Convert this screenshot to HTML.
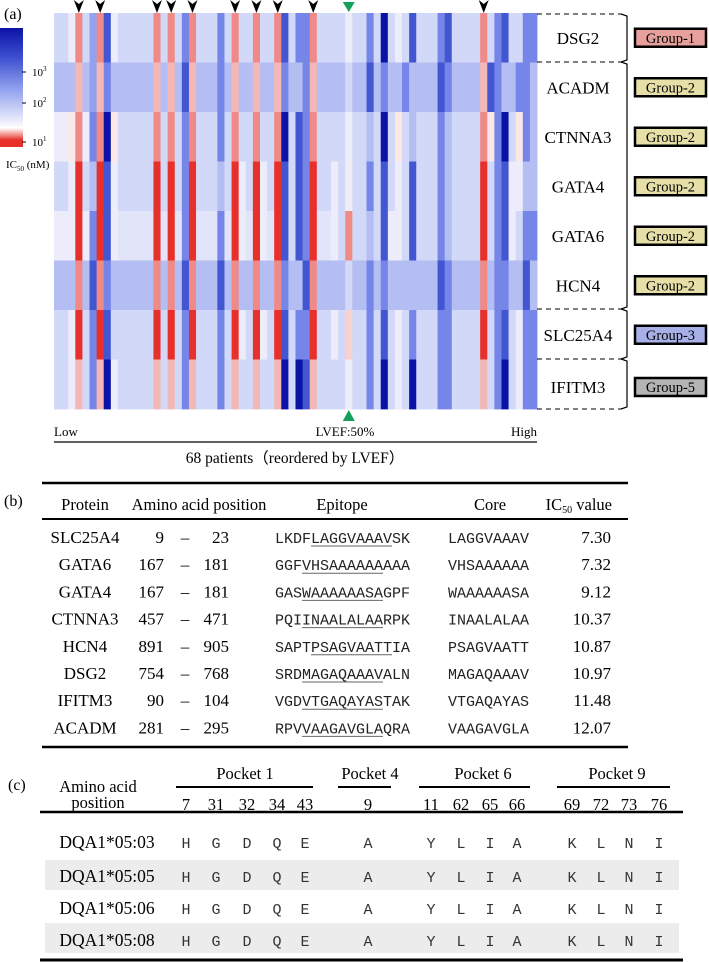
<!DOCTYPE html>
<html><head><meta charset="utf-8"><style>
html,body{margin:0;padding:0;background:#fff;}
svg{display:block;font-family:"Liberation Serif",serif;}
.mono{font-family:"Liberation Mono",monospace;}
</style></head><body>
<svg id="fig" width="709" height="962" viewBox="0 0 709 962" xmlns="http://www.w3.org/2000/svg">
<defs>
<linearGradient id="cb" x1="0" y1="0" x2="0" y2="1">
<stop offset="0" stop-color="#0b12a6"/><stop offset="0.25" stop-color="#3d50d0"/><stop offset="0.5" stop-color="#8d9ded"/><stop offset="0.75" stop-color="#dfe3f9"/><stop offset="0.84" stop-color="#ffffff"/><stop offset="0.9" stop-color="#f08a85"/><stop offset="0.94" stop-color="#e8302a"/><stop offset="1" stop-color="#e8302a"/>
</linearGradient>
</defs>
<text x="4" y="19" font-size="16">(a)</text>
<g>
<rect x="0" y="28" width="23" height="119" fill="url(#cb)"/>
<g stroke="#000" stroke-width="1">
<line x1="22" y1="72" x2="26" y2="72"/><line x1="22" y1="103" x2="26" y2="103"/><line x1="22" y1="142" x2="26" y2="142"/>
</g>
<text x="32" y="76" font-size="11">10<tspan font-size="7" dy="-5">3</tspan></text>
<text x="32" y="107" font-size="11">10<tspan font-size="7" dy="-5">2</tspan></text>
<text x="32" y="146" font-size="11">10<tspan font-size="7" dy="-5">1</tspan></text>
<text x="6" y="168" font-size="11">IC<tspan font-size="7" dy="3">50</tspan><tspan dy="-3"> (nM)</tspan></text>
</g>
<g id="heat"></g>
<g id="marks"></g>
<g id="rowlabels"></g>
<g>
<text x="54" y="436" font-size="13">Low</text>
<text x="345" y="436" font-size="13" text-anchor="middle">LVEF:50%</text>
<text x="537" y="436" font-size="13" text-anchor="end">High</text>
<line x1="54" y1="442" x2="537" y2="442" stroke="#000" stroke-width="1.2"/>
<text x="295" y="463" font-size="15.5" text-anchor="middle">68 patients（reordered by LVEF）</text>
</g>
<g>
<text x="4" y="506" font-size="16">(b)</text>
<line x1="42" y1="483" x2="628" y2="483" stroke="#000" stroke-width="2.5"/>
<line x1="42" y1="519" x2="628" y2="519" stroke="#000" stroke-width="2"/>
<line x1="42" y1="747" x2="628" y2="747" stroke="#000" stroke-width="2.5"/>
<g font-size="16.5">
<text x="85" y="510" text-anchor="middle">Protein</text>
<text x="199" y="510" text-anchor="middle">Amino acid position</text>
<text x="342" y="510" text-anchor="middle">Epitope</text>
<text x="490" y="510" text-anchor="middle">Core</text>
<text x="612" y="510" text-anchor="end">IC<tspan font-size="10" dy="3">50</tspan><tspan dy="-3"> value</tspan></text>
</g>
<g id="tb"></g>
</g>
<g>
<text x="8" y="790" font-size="16">(c)</text>
<g font-size="16.5" text-anchor="middle">
<text x="98" y="792">Amino acid</text><text x="98" y="808">position</text>
<text x="245" y="779">Pocket 1</text><text x="370" y="779">Pocket 4</text>
<text x="483" y="779">Pocket 6</text><text x="617" y="779">Pocket 9</text>
</g>
<g stroke="#000" stroke-width="2">
<line x1="176" y1="787" x2="313" y2="787"/><line x1="338" y1="787" x2="391" y2="787"/>
<line x1="419" y1="787" x2="530" y2="787"/><line x1="557" y1="787" x2="670" y2="787"/>
</g>
<rect x="45" y="860" width="634" height="30" fill="#ececec"/>
<rect x="45" y="923" width="634" height="30" fill="#ececec"/>
<line x1="40" y1="812" x2="683" y2="812" stroke="#000" stroke-width="2.5"/>
<line x1="40" y1="960" x2="683" y2="960" stroke="#000" stroke-width="3"/>
<g id="tc"></g>
</g>
</svg>
<script>
const proteins = ["DSG2","ACADM","CTNNA3","GATA4","GATA6","HCN4","SLC25A4","IFITM3"];
const groups = ["Group-1","Group-2","Group-2","Group-2","Group-2","Group-2","Group-3","Group-5"];
const rowDSG2 = [2.1,2.1,1.85,1.3,2.1,2.6,1.3,3.1,1.85,2.1,2.1,2.1,2.1,2.1,1.3,2.1,1.3,2.1,2.8,1.3,2.1,2.1,2.1,2.8,2.1,1.3,2.1,2.1,1.3,2.1,2.1,1.3,3.1,2.1,2.8,2.8,1.3,2.1,2.1,2.1,2.1,1.85,2.1,2.1,2.8,2.1,3.5,2.1,1.85,2.1,3.1,2.1,2.1,2.1,2.8,3.1,2.1,2.1,2.1,2.1,1.3,2.1,2.8,3.1,2.1,2.1,2.8,2.8];
const rowACADM = [2.4,2.4,2.4,1.5,2.4,2.6,1.5,2.8,2.4,2.4,2.4,2.4,2.4,2.4,1.5,2.4,1.5,2.4,3.1,1.5,2.4,2.4,2.4,2.8,2.4,1.5,2.4,2.4,1.5,2.4,2.4,1.5,2.8,2.4,2.4,2.8,1.5,2.4,2.4,2.4,2.4,2.1,2.4,2.4,3.1,2.4,2.8,2.4,2.4,2.8,2.4,2.4,2.4,2.4,3.1,2.8,2.4,2.4,2.4,2.4,1.5,3.1,2.8,2.4,2.4,2.8,2.8,2.4];
const rowCTNNA3 = [1.85,1.85,1.7,1.3,1.85,2.8,1.3,3.5,1.7,2.1,2.1,2.1,2.1,2.1,1.3,2.1,1.3,2.1,2.8,1.3,2.1,2.1,2.1,2.8,2.1,1.3,2.1,2.1,1.3,2.1,2.1,1.3,3.5,2.1,3.1,2.8,1.3,2.1,2.1,2.1,2.1,1.85,2.1,2.1,2.4,2.1,3.5,2.1,1.7,2.1,2.4,2.1,2.1,2.1,2.8,2.4,2.1,2.1,2.1,2.1,1.3,1.7,2.8,3.5,2.1,1.7,2.8,2.4];
const rowGATA4 = [2.1,2.1,1.85,1.0,2.1,2.4,1.0,3.1,1.85,2.1,2.1,2.1,2.1,2.1,1.0,2.1,1.0,2.1,2.8,1.0,2.1,2.1,2.1,2.4,2.1,1.0,1.85,2.1,1.0,1.85,2.1,1.0,3.1,2.1,3.1,2.8,1.0,2.1,2.1,1.85,2.1,1.8,2.1,2.1,2.8,2.1,3.1,2.1,1.85,2.1,3.1,2.1,2.1,2.1,2.8,2.4,2.1,2.1,2.1,2.1,1.0,2.1,2.8,3.1,1.85,1.85,2.4,2.4];
const rowGATA6 = [1.85,1.85,1.85,1.0,1.85,2.8,1.0,3.1,1.85,1.95,1.95,1.95,1.95,1.95,1.0,1.95,1.0,1.95,2.8,1.0,1.95,1.95,1.95,2.8,1.95,1.0,1.85,1.95,1.0,1.85,1.95,1.0,3.1,2.1,3.1,2.8,1.0,1.95,1.95,1.85,2.1,1.3,2.1,2.1,2.4,2.1,3.1,1.85,1.85,2.1,3.1,2.1,2.1,2.1,2.8,2.4,2.1,2.1,2.1,2.1,1.0,2.1,2.8,3.1,1.85,2.1,2.8,2.8];
const rowHCN4 = [2.4,2.4,2.4,1.3,2.4,3.1,1.3,2.8,2.4,2.4,2.4,2.4,2.4,2.4,1.3,2.4,1.3,2.4,3.1,1.3,2.4,2.4,2.4,3.1,2.4,1.3,2.4,2.4,1.3,2.4,2.4,1.3,2.8,2.4,2.4,3.1,1.3,2.4,2.4,2.4,2.4,2.1,2.4,2.4,2.8,2.4,2.8,2.4,2.4,2.4,2.4,2.4,2.4,2.4,3.1,2.8,2.4,2.4,2.4,2.4,1.3,2.4,2.8,2.8,2.4,2.4,3.1,2.4];
const rowSLC25A4 = [2.1,2.1,1.85,1.0,2.1,2.8,1.0,3.1,2.1,2.1,2.1,2.1,2.1,2.1,1.0,2.1,1.0,2.1,2.8,1.0,2.1,2.1,2.1,2.8,2.1,1.0,1.85,2.1,1.0,1.85,2.1,1.0,3.1,2.1,2.8,2.8,1.0,2.1,2.1,1.85,2.1,1.6,2.1,2.1,2.8,2.1,3.1,2.1,1.85,2.1,2.8,2.1,2.1,2.1,2.8,2.8,2.1,2.1,2.1,2.1,1.0,2.1,2.8,3.1,2.1,1.85,2.8,2.8];
const rowIFITM3 = [2.1,2.1,1.85,1.5,2.1,2.8,1.5,3.5,1.85,2.1,2.1,2.1,2.1,2.1,1.5,2.1,1.5,2.1,2.8,1.5,2.1,2.1,2.1,2.8,2.1,1.5,2.1,2.1,1.5,2.1,2.1,1.5,3.5,2.1,3.5,3.1,1.5,2.1,2.1,2.1,2.1,1.85,2.1,2.1,2.8,2.1,3.5,2.1,1.85,2.1,3.5,2.1,2.1,2.1,2.8,2.8,2.1,2.1,2.1,2.1,1.5,2.1,2.8,3.5,2.1,1.85,2.8,2.8];
const rows = [rowDSG2,rowACADM,rowCTNNA3,rowGATA4,rowGATA6,rowHCN4,rowSLC25A4,rowIFITM3];
const arrowCols = [3,6,14,16,19,25,28,31,36,60];
const lvefCol = 41;

const NS="http://www.w3.org/2000/svg";
function mk(tag,attrs,parent){const e=document.createElementNS(NS,tag);for(const k in attrs)e.setAttribute(k,attrs[k]);parent.appendChild(e);return e;}
const X0=54,X1=537,Y0=13,RH=49.5;
const nCols=rowDSG2.length;
const cw=(X1-X0)/nCols;
function xScale(i){return X0+i*cw;}
function yScale(r){return Y0+r*RH;}
const stops=[[1.0,[232,48,42]],[1.3,[239,138,134]],[1.5,[243,184,181]],[1.7,[250,232,232]],[1.85,[236,236,251]],[2.1,[210,216,247]],[2.4,[180,190,243]],[2.8,[117,133,232]],[3.1,[67,86,210]],[3.5,[11,18,166]]];
function color(v){
 if(v<=stops[0][0])return `rgb(${stops[0][1]})`;
 for(let i=1;i<stops.length;i++){if(v<=stops[i][0]){const a=stops[i-1],b=stops[i];const t=(v-a[0])/(b[0]-a[0]);const c=a[1].map((x,j)=>Math.round(x+(b[1][j]-x)*t));return `rgb(${c})`;}}
 return `rgb(${stops[stops.length-1][1]})`;
}
const heat=document.getElementById('heat');
rows.forEach((row,r)=>{row.forEach((v,i)=>{
 const c=mk('rect',{x:xScale(i).toFixed(2),y:yScale(r).toFixed(2),width:(cw+0.4).toFixed(2),height:(RH+0.4).toFixed(2),fill:color(v)},heat);
 
 
});});
const marks=document.getElementById('marks');
arrowCols.forEach(i=>{const cx=xScale(i)+cw/2;
 const p=mk('path',{d:`M${cx-5},0 L${cx},4 L${cx+5},0 L${cx},13 Z`,fill:'#000'},marks);
 
 
});
{const cx=xScale(lvefCol)+cw/2;
 const t1=mk('path',{d:`M${cx-6},2 L${cx+6},2 L${cx},12 Z`,fill:'#12a05a'},marks);
 
 
 const t2=mk('path',{d:`M${cx-6},421 L${cx+6},421 L${cx},410 Z`,fill:'#12a05a'},marks);
 
 
}
const rl=document.getElementById('rowlabels');
const gcol={"Group-1":"#e8a09c","Group-2":"#e6e0a8","Group-3":"#a8b0e8","Group-5":"#b4b4b4"};
proteins.forEach((p,r)=>{
 const cy=r<7?yScale(r)+RH/2:387;
 const t=mk('text',{x:578,y:cy+6,'font-size':17,'text-anchor':'middle'},rl);t.textContent=p;
 
 
 const b=mk('rect',{x:635,y:cy-9,width:71,height:18,fill:gcol[groups[r]],stroke:'#000','stroke-width':2.5},rl);
 
 
 const g=mk('text',{x:670.5,y:cy+5,'font-size':14.5,'text-anchor':'middle'},rl);g.textContent=groups[r];
 
 
});
[14,62,309,359,409].forEach(y=>{mk('line',{x1:537,y1:y,x2:621,y2:y,stroke:'#000','stroke-width':1,'stroke-dasharray':'5,4'},rl);});
const br=mk('path',{d:'M621,14 L627,16 L627,60 L621,62 L627,64 L627,307 L621,309 L627,311 L627,357 L621,359 L627,361 L627,407 L621,409',fill:'none',stroke:'#000','stroke-width':1.2},rl);



const tbProt=["SLC25A4","GATA6","GATA4","CTNNA3","HCN4","DSG2","IFITM3","ACADM"];
const tbStart=[9,167,167,457,891,754,90,281];
const tbEnd=[23,181,181,471,905,768,104,295];
const tbPre=["LKDF","GGF","GAS","PQI","SAPT","SRD","VGD","RPV"];
const tbUnd=["LAGGVAAAV","VHSAAAAAA","WAAAAAASA","INAALALAA","PSAGVAATT","MAGAQAAAV","VTGAQAYAS","VAAGAVGLA"];
const tbPost=["SK","AAA","GPF","RPK","IA","ALN","TAK","QRA"];
const tbIC=["7.30","7.32","9.12","10.37","10.87","10.97","11.48","12.07"];
const tb=document.getElementById('tb');
tbProt.forEach((p,i)=>{const y=543+i*27.2;
 let t=mk('text',{x:85,y:y,'font-size':17,'text-anchor':'middle'},tb);t.textContent=p;
 t=mk('text',{x:164,y:y,'font-size':17,'text-anchor':'end'},tb);t.textContent=tbStart[i];
 t=mk('text',{x:185,y:y,'font-size':17,'text-anchor':'middle'},tb);t.textContent="–";
 t=mk('text',{x:229,y:y,'font-size':17,'text-anchor':'end'},tb);t.textContent=tbEnd[i];
 t=mk('text',{x:275,y:y,'font-size':15,'class':'mono',fill:'#222'},tb);
 t.textContent=tbPre[i]+tbUnd[i]+tbPost[i];
 const ux=275+tbPre[i].length*9.0;
 mk('line',{x1:ux,y1:y+3,x2:ux+9*9.0,y2:y+3,stroke:'#666','stroke-width':1},tb);
 t=mk('text',{x:448,y:y,'font-size':15,'class':'mono',fill:'#222'},tb);t.textContent=tbUnd[i];
 t=mk('text',{x:611,y:y,'font-size':17,'text-anchor':'end'},tb);t.textContent=tbIC[i];
});

const tcAlleles=["DQA1*05:03","DQA1*05:05","DQA1*05:06","DQA1*05:08"];
const tcPos=["7","31","32","34","43","9","11","62","65","66","69","72","73","76"];
const tcRes=["H","G","D","Q","E","A","Y","L","I","A","K","L","N","I"];
const tcX=[186,216,247,277,305,368,431,461,490,517,572,601,629,659];
const tc=document.getElementById('tc');
tcPos.forEach((p,j)=>{const t=mk('text',{x:tcX[j],y:810,'font-size':16.5,'text-anchor':'middle'},tc);t.textContent=p;});
tcAlleles.forEach((a,i)=>{const y=[848,882,914,946][i];
 let t=mk('text',{x:107,y:y,'font-size':17.5,'text-anchor':'middle'},tc);t.textContent=a;
 tcRes.forEach((r,j)=>{const u=mk('text',{x:tcX[j],y:y,'font-size':15,'text-anchor':'middle','class':'mono',fill:'#333'},tc);u.textContent=r;});
});
</script>
</body></html>
